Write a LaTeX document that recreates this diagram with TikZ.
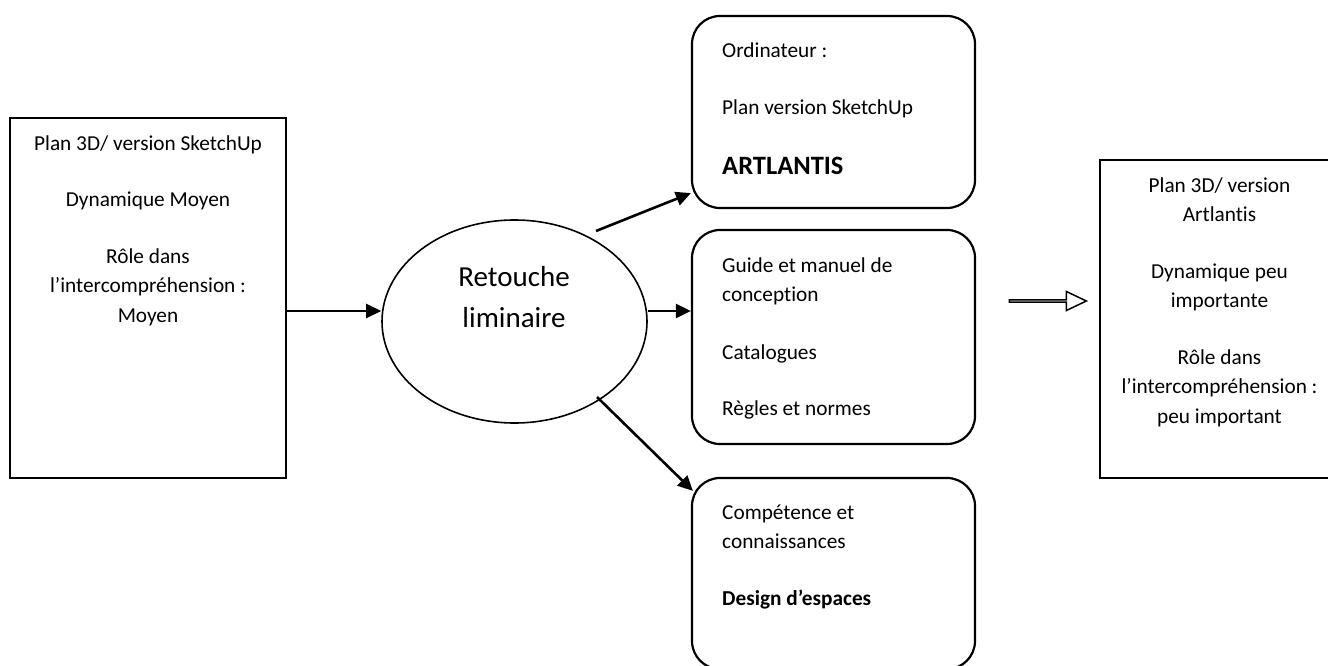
\documentclass[tikz,border=0pt]{standalone}
\usepackage{fontspec}
\setmainfont{Carlito}[Ligatures=NoCommon]
\usetikzlibrary{arrows.meta,shapes.geometric,shapes.arrows,calc}
\begin{document}
\begin{tikzpicture}[x=1pt,y=-1pt,
  sqbox/.style={draw,rectangle,line width=2.2pt,inner sep=0pt},
  rbox/.style={draw,rectangle,rounded corners=28pt,line width=2.2pt,inner sep=0pt},
  txt/.style={font=\fontsize{21.3}{29.5}\selectfont,inner sep=0pt},
  bigtxt/.style={font=\fontsize{29}{41}\selectfont,inner sep=0pt},
  arr/.style={line width=2.6pt,-{Triangle[length=15pt,width=14pt]}}]
\useasboundingbox (0,0) rectangle (1328,666);
\clip (0,0) rectangle (1328,666);
% boxes
\node[sqbox,minimum width=276pt,minimum height=360pt] (lbox) at (148,298) {};
\node[sqbox,minimum width=245pt,minimum height=318pt] (rbox) at (1222.5,319) {};
\node[draw,ellipse,line width=1.6pt,minimum width=265pt,minimum height=203pt,inner sep=0pt] (ell) at (514.5,321.5) {};
\node[rbox,minimum width=283pt,minimum height=192pt] (box1) at (833.5,112) {};
\node[rbox,minimum width=283pt,minimum height=214pt] (box2) at (833.5,337) {};
\node[rbox,minimum width=283pt,minimum height=191pt] (box3) at (833.5,573.5) {};
% texts
\node[txt,align=center,anchor=north] (ltxt) at (148,129.35) {\strut Plan 3D/ version SketchUp\\[27pt] Dynamique Moyen\\[27pt] Rôle dans\\ l’intercompréhension :\\ Moyen};
\node[txt,align=center,anchor=north] (rtxt) at (1219.5,171.35) {\strut Plan 3D/ version\\ Artlantis\\[27pt] Dynamique peu\\ importante\\[27pt] Rôle dans\\ l’intercompréhension :\\ peu important};
\node[bigtxt,align=center,anchor=north] (etxt) at (514,257.3) {\strut Retouche\\ liminaire};
\node[txt,align=left,anchor=north west] (t1) at (722,36.35) {\strut Ordinateur :\\[27.5pt] Plan version SketchUp};
\node[font=\fontsize{26.5}{32}\selectfont\bfseries,inner sep=0pt,anchor=base west] (t1b) at (722,174.5) {ARTLANTIS};
\node[txt,align=left,anchor=north west] (t2) at (722,251.35) {\strut Guide et manuel de\\ conception\\[28.5pt] Catalogues\\[26pt] Règles et normes};
\node[txt,align=left,anchor=north west] (t3) at (722,498.35) {\strut Compétence et\\ connaissances\\[27pt] \textbf{Design d’espaces}};
% hollow arrow
\node[draw,single arrow,line width=1.5pt,minimum height=77pt,minimum width=19pt,single arrow head extend=5pt,single arrow tip angle=51,inner sep=0pt] (harrow) at (1046.5,301) {};
% connectors
\coordinate (s1) at ($(ell.center)+(81.5,-90.5)$);
\coordinate (s3) at ($(ell.center)+(82.5,75.5)$);
\draw[arr] ($(lbox.east)+(0,13)$) -- ($(ell.west)+(0,-10.5)$);
\draw[arr] (s1) -- ($(box1.south west)+(0,-16)$);
\draw[arr] ($(ell.east)+(0,-10.5)$) -- ($(box2.west)+(0,-26)$);
\draw[arr] (s3) -- ($(box3.north west)+(2,14)$);
\end{tikzpicture}
\end{document}
